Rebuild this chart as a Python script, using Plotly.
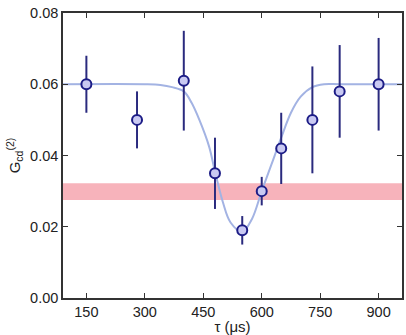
import plotly.graph_objects as go

tau = [150, 280, 400, 480, 550, 600, 650, 730, 800, 900]
g2 = [0.060, 0.050, 0.061, 0.035, 0.019, 0.030, 0.042, 0.050, 0.058, 0.060]
g2_err = [0.008, 0.008, 0.014, 0.010, 0.004, 0.004, 0.010, 0.015, 0.013, 0.013]

fit_tau = [90, 300, 340, 370, 400, 420, 440, 465, 480, 500, 520, 550, 575, 600, 625, 650, 675, 700, 730, 760, 800, 960]
fit_g2 = [0.060, 0.060, 0.0598, 0.0592, 0.0580, 0.0548, 0.0500, 0.0425, 0.0355, 0.0270, 0.0212, 0.0186, 0.0222, 0.0300, 0.0375, 0.0450, 0.0520, 0.0565, 0.0592, 0.0600, 0.0600, 0.0600]

band_low, band_high = 0.0275, 0.0322

x_ticks = [150, 300, 450, 600, 750, 900]
y_ticks = [0.00, 0.02, 0.04, 0.06, 0.08]

fig = go.Figure()
fig.add_shape(type="rect", xref="paper", yref="y", x0=0, x1=1, y0=band_low, y1=band_high,
              fillcolor="#f7b3bb", line_width=0, layer="below")
fig.add_trace(go.Scatter(x=fit_tau, y=fit_g2, mode="lines", line=dict(color="#a3b3e3", width=2, shape="spline"),
                         hoverinfo="skip", showlegend=False))
fig.add_trace(go.Scatter(x=tau, y=g2, mode="markers",
                         error_y=dict(type="data", array=g2_err, color="#2a2a7e", thickness=2, width=0),
                         marker=dict(size=10, color="#c9c9f2", line=dict(color="#1c1c86", width=2)),
                         showlegend=False))

axis_common = dict(showline=True, linecolor="#333333", linewidth=1.5, mirror="ticks", ticks="inside",
                   ticklen=5, tickcolor="#333333", showgrid=False, zeroline=False,
                   tickfont=dict(family="Liberation Sans, Arial", size=14.5, color="#222222"))
fig.update_xaxes(range=[90, 960], tickvals=x_ticks, ticktext=[str(v) for v in x_ticks],
                 title=dict(text="τ (μs)", font=dict(family="Liberation Sans, Arial", size=15, color="#222222"), standoff=2),
                 **axis_common)
fig.update_yaxes(range=[0, 0.08], tickvals=y_ticks, ticktext=[f"{v:.2f}" for v in y_ticks],
                 title=dict(text="G<sub>cd</sub><sup>(2)</sup>", font=dict(family="Liberation Sans, Arial", size=15, color="#222222"), standoff=6),
                 **axis_common)
fig.update_layout(width=406, height=335, margin=dict(l=63, r=2, t=13, b=35),
                  paper_bgcolor="white", plot_bgcolor="white")
fig.write_html("out.html")
